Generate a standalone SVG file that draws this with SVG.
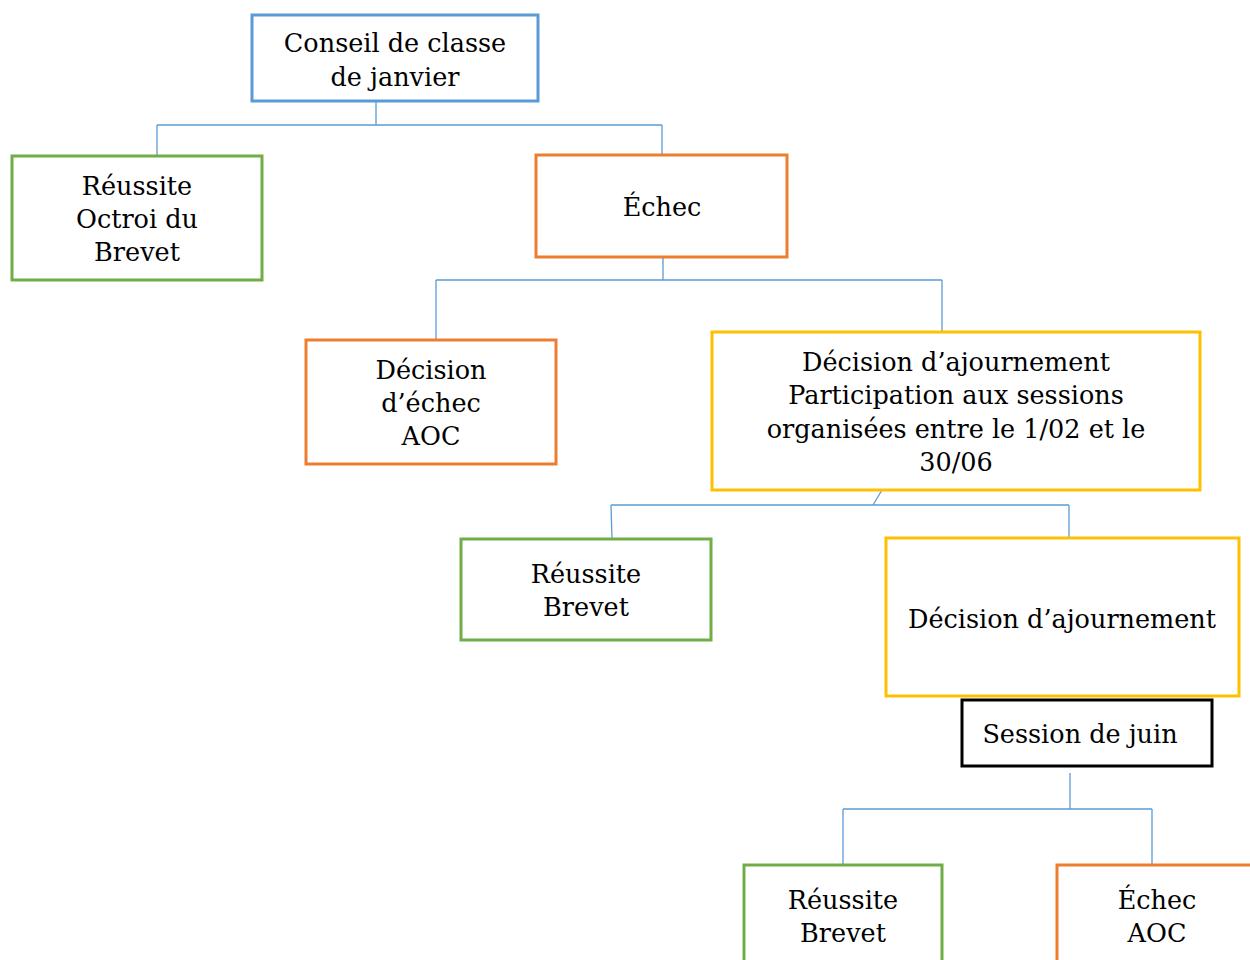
<svg xmlns="http://www.w3.org/2000/svg" width="1250" height="960" viewBox="0 0 1250 960">
<style>
.box{fill:#fff;stroke-width:3}
.blue{stroke:#5B9BD5}
.green{stroke:#70AD47}
.orange{stroke:#ED7D31}
.yellow{stroke:#FFC000}
.black{stroke:#000}
text{font-family:"DejaVu Serif",serif;font-size:25.5px;fill:#000;text-anchor:middle}
.conn{fill:none;stroke:#5B9BD5;stroke-width:1.3}
</style>
<rect width="1250" height="960" fill="#fff"/>
<g id="connectors">
<path class="conn" d="M376,101V125M157,125H662M157,125V156M662,125V155"/>
<path class="conn" d="M663,257V280M436,280H942M436,280V340M942,280V332"/>
<path class="conn" d="M882,490L873,505M611,505H1069M611,505L612,539M1069,505V538"/>
<path class="conn" d="M1070,773V809M843,809H1152M843,809V865M1152,809V865"/>
</g>
<g id="n1"><rect class="box blue" x="252" y="15" width="286" height="86"/><text x="395" y="52">Conseil de classe</text><text x="395" y="86">de janvier</text></g>
<g id="n2"><rect class="box green" x="12" y="156" width="250" height="124"/><text x="137" y="195">Réussite</text><text x="137" y="228">Octroi du</text><text x="137" y="261">Brevet</text></g>
<g id="n3"><rect class="box orange" x="536" y="155" width="251" height="102"/><text x="662" y="216">Échec</text></g>
<g id="n4"><rect class="box orange" x="306" y="340" width="250" height="124"/><text x="431" y="379">Décision</text><text x="431" y="412">d’échec</text><text x="431" y="445">AOC</text></g>
<g id="n5"><rect class="box yellow" x="712" y="332" width="488" height="158"/><text x="956" y="371">Décision d’ajournement</text><text x="956" y="404">Participation aux sessions</text><text x="956" y="438">organisées entre le 1/02 et le</text><text x="956" y="471">30/06</text></g>
<g id="n6"><rect class="box green" x="461" y="539" width="250" height="101"/><text x="586" y="583">Réussite</text><text x="586" y="616">Brevet</text></g>
<g id="n7"><rect class="box yellow" x="886" y="538" width="353" height="158"/><text x="1062" y="628">Décision d’ajournement</text></g>
<g id="n8"><rect class="box black" x="962" y="700" width="250" height="66"/><text x="1080" y="743">Session de juin</text></g>
<g id="n9"><rect class="box green" x="744" y="865" width="198" height="100"/><text x="843" y="909">Réussite</text><text x="843" y="942">Brevet</text></g>
<g id="n10"><rect class="box orange" x="1057" y="865" width="200" height="100"/><text x="1157" y="909">Échec</text><text x="1157" y="942">AOC</text></g>
</svg>
